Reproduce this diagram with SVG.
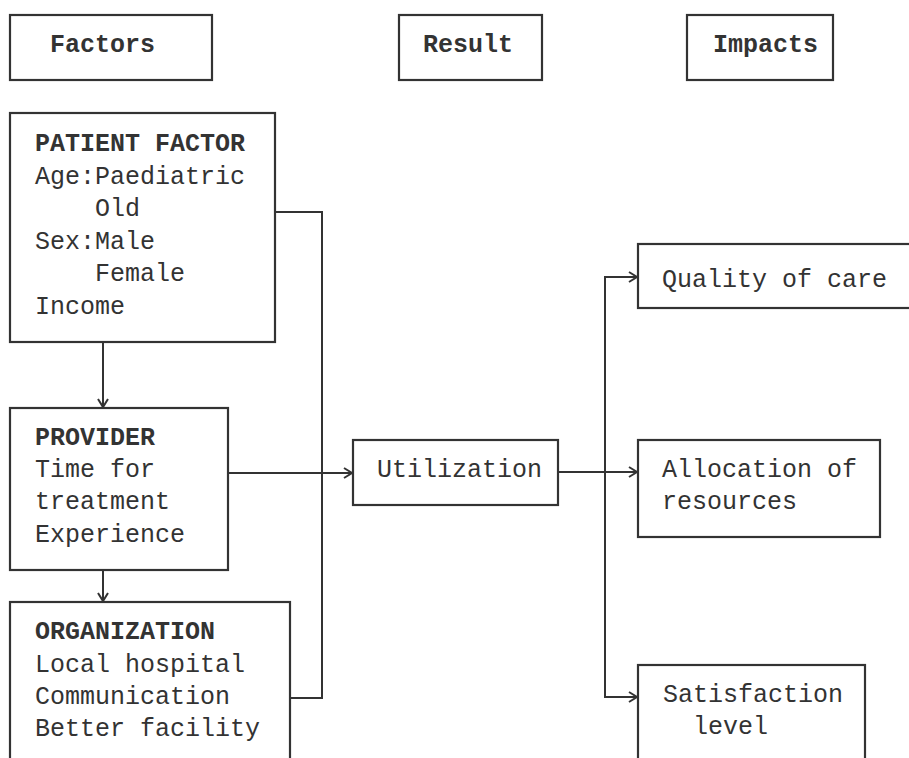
<svg xmlns="http://www.w3.org/2000/svg" width="909" height="758" viewBox="0 0 909 758">
<defs>
<marker id="arr" markerUnits="userSpaceOnUse" markerWidth="14" markerHeight="14" refX="10" refY="6" orient="auto">
<path d="M2,1 L10,6 L2,11" fill="none" stroke="#333" stroke-width="2"/>
</marker>
<style>
rect { fill: #fff; stroke: #333; stroke-width: 2.2; }
text { font-family: "Liberation Mono", "DejaVu Sans Mono", monospace; font-size: 25px; fill: #333; }
.b { font-weight: bold; }
.c { fill: none; stroke: #333; stroke-width: 2; }
</style>
</defs>
<rect x="0" y="0" width="909" height="758" style="fill:#fff;stroke:none"/>
<g id="factors-header"><rect x="10" y="15" width="202" height="65"/><text class="b" x="50" y="52">Factors</text></g>
<g id="result-header"><rect x="399" y="15" width="143" height="65"/><text class="b" x="423" y="52">Result</text></g>
<g id="impacts-header"><rect x="687" y="15" width="146" height="65"/><text class="b" x="713" y="52">Impacts</text></g>
<g id="connectors">
<path class="c" d="M103,342 V407" marker-end="url(#arr)"/>
<path class="c" d="M103,570 V601" marker-end="url(#arr)"/>
<path class="c" d="M275,212 H322 V698 H290"/>
<path class="c" d="M228,473 H352" marker-end="url(#arr)"/>
<path class="c" d="M558,472 H637" marker-end="url(#arr)"/>
<path class="c" d="M605,472 V277 H637" marker-end="url(#arr)"/>
<path class="c" d="M605,472 V697 H637" marker-end="url(#arr)"/>
</g>
<g id="patient"><rect x="10" y="113" width="265" height="229"/>
<text class="b" x="35" y="151">PATIENT FACTOR</text>
<text x="35" y="184">Age:Paediatric</text>
<text x="95" y="216">Old</text>
<text x="35" y="249">Sex:Male</text>
<text x="95" y="281">Female</text>
<text x="35" y="314">Income</text></g>
<g id="provider"><rect x="10" y="408" width="218" height="162"/>
<text class="b" x="35" y="445">PROVIDER</text>
<text x="35" y="477">Time for</text>
<text x="35" y="509">treatment</text>
<text x="35" y="542">Experience</text></g>
<g id="organization"><rect x="10" y="602" width="280" height="170"/>
<text class="b" x="35" y="639">ORGANIZATION</text>
<text x="35" y="672">Local hospital</text>
<text x="35" y="704">Communication</text>
<text x="35" y="736">Better facility</text></g>
<g id="utilization"><rect x="353" y="440" width="205" height="65"/><text x="377" y="477">Utilization</text></g>
<g id="quality"><rect x="638" y="244" width="290" height="64"/><text x="662" y="287">Quality of care</text></g>
<g id="allocation"><rect x="638" y="440" width="242" height="97"/><text x="662" y="477">Allocation of</text><text x="662" y="509">resources</text></g>
<g id="satisfaction"><rect x="638" y="665" width="227" height="110"/><text x="663" y="702">Satisfaction</text><text x="693" y="734">level</text></g>
</svg>
